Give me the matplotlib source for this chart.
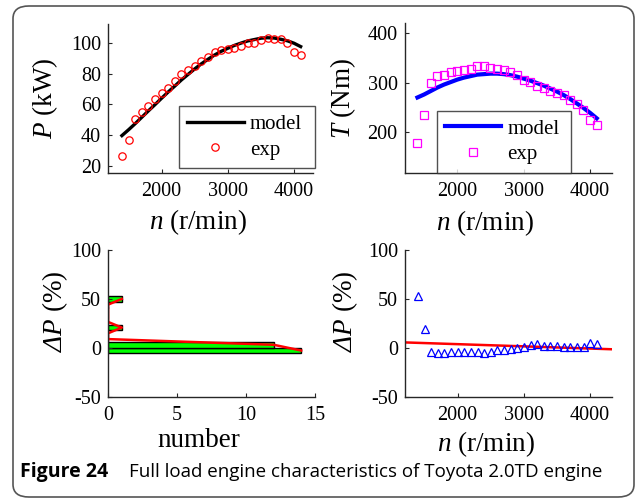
import matplotlib
matplotlib.use("Agg")
import matplotlib.pyplot as plt
from matplotlib.patches import FancyBboxPatch

plt.rcParams["font.family"] = "Liberation Serif"
plt.rcParams["mathtext.fontset"] = "custom"
plt.rcParams["mathtext.rm"] = "Liberation Serif"
plt.rcParams["mathtext.it"] = "Liberation Serif:italic"
# sans slot mapped to the italic serif so that Greek capitals come out slanted
plt.rcParams["mathtext.sf"] = "Liberation Serif:italic"

# Engine speed (r/min)
speed = [1400, 1500, 1600, 1700, 1800, 1900, 2000, 2100, 2200, 2300,
         2400, 2500, 2600, 2700, 2800, 2900, 3000, 3100, 3200, 3300,
         3400, 3500, 3600, 3700, 3800, 3900, 4000, 4100]

# Power (kW)
power_model = [39.6, 43.4, 47.4, 51.6, 55.8, 59.9, 64.1, 68.2, 72.1, 76.1,
               79.7, 83.3, 86.6, 89.6, 92.4, 94.8, 96.8, 98.7, 100.2, 101.6,
               102.5, 103.4, 103.7, 103.5, 102.7, 101.7, 100.1, 97.9]
power_exp = [26.0, 36.4, 50.3, 55.3, 59.0, 63.6, 67.8, 71.0, 75.4, 80.0,
             82.6, 85.2, 88.7, 91.3, 94.1, 95.6, 96.3, 97.0, 98.3, 100.0,
             100.4, 102.2, 103.3, 102.8, 102.6, 100.4, 94.1, 92.4]

# Torque (Nm)
torque_model = [270, 276, 283, 290, 296, 301, 306, 310, 313, 316,
                317, 318, 318, 317, 315, 312, 308, 304, 299, 294,
                288, 282, 275, 267, 258, 249, 239, 228]
torque_exp = [178, 234, 300, 314, 316, 321, 324, 326, 327, 334,
              333, 329, 328, 325, 321, 316, 306, 301, 294, 289,
              284, 280, 275, 265, 257, 245, 225, 215]

# Relative power error (%)
dp = [52.9, 19.5, -4.5, -5.7, -5.0, -4.5, -4.8, -4.2, -4.0, -4.8,
      -4.9, -4.2, -2.2, -1.8, -1.2, -0.4, 0.8, 2.8, 3.5, 2.2,
      1.7, 1.5, 1.2, 1.2, 0.9, 1.3, 4.8, 3.6]

# Histogram of the error: bin centres (%) and counts
bin_centers = [-2.8, 3.1, 8.9, 14.8, 20.7, 26.5, 32.4, 38.3, 44.1, 50.0]
bin_counts = [14, 12, 0, 0, 1, 0, 0, 0, 0, 1]
bin_width = 5.86

# Linear trend of the error over the speed range
trend_speed = [1205, 4330]
trend_dp = [5.5, -1.5]

W, H = 637, 503
fig = plt.figure(figsize=(W / 100, H / 100), dpi=100)

AX_COLOR = "#262626"
TICK_FS = 14.5
LEG_FS = 15
LABEL_FS = 19.5


def px_axes(x0, y0, x1, y1):
    return fig.add_axes([x0 / W, 1 - y1 / H, (x1 - x0) / W, (y1 - y0) / H])


def style(ax):
    for s in ("top", "right"):
        ax.spines[s].set_visible(False)
    for s in ("left", "bottom"):
        ax.spines[s].set_color(AX_COLOR)
        ax.spines[s].set_linewidth(1.0)
    ax.tick_params(direction="in", length=3, width=0.8, color=AX_COLOR,
                   labelsize=TICK_FS, labelcolor="black", pad=5)
    ax.tick_params(axis="x", pad=7)


def legend(ax, handles, labels, x0, y0, x1):
    lg = ax.legend(handles, labels, loc="lower left", mode="expand",
                   bbox_to_anchor=(x0 / W, 1 - y0 / H, (x1 - x0) / W, 0.05),
                   bbox_transform=fig.transFigure, fontsize=LEG_FS,
                   frameon=True, fancybox=False, handlelength=2.7,
                   handletextpad=0.3, borderpad=0.4, labelspacing=0.3,
                   borderaxespad=0)
    fr = lg.get_frame()
    fr.set_edgecolor(AX_COLOR)
    fr.set_linewidth(1.0)
    return lg


# Power
ax1 = px_axes(108, 24, 312.7, 172.7)
style(ax1)
l1, = ax1.plot(speed, power_model, color="black", lw=2.4)
m1, = ax1.plot(speed, power_exp, "o", mfc="none", mec="red", ms=5.3, mew=0.9)
ax1.set_xlim(1190, 4282)
ax1.set_ylim(15.3, 112.7)
ax1.set_yticks([20, 40, 60, 80, 100])
ax1.set_xticks([2000, 3000, 4000])
ax1.set_xlabel("$\\mathit{n}$ (r/min)", fontsize=LABEL_FS)
ax1.set_ylabel("$\\mathit{P}$ (kW)", fontsize=LABEL_FS)
ax1.xaxis.set_label_coords(0.44, -0.235)
ax1.yaxis.set_label_coords(-0.235, 0.5)
legend(ax1, [l1, m1], ["model", "exp"], 179, 168, 315)

# Torque
ax2 = px_axes(404.5, 23, 612, 172.7)
style(ax2)
l2, = ax2.plot(speed, torque_model, color="#0000ff", lw=3.0)
m2, = ax2.plot(speed, torque_exp, "s", mfc="none", mec="#ff00ff", ms=6.0, mew=0.9)
ax2.set_xlim(1205, 4330)
ax2.set_ylim(118.5, 420)
ax2.set_yticks([200, 300, 400])
ax2.set_xticks([2000, 3000, 4000])
ax2.set_xlabel("$\\mathit{n}$ (r/min)", fontsize=LABEL_FS)
ax2.set_ylabel("$\\mathit{T}$ (Nm)", fontsize=LABEL_FS)
ax2.xaxis.set_label_coords(0.39, -0.235)
ax2.yaxis.set_label_coords(-0.225, 0.5)
legend(ax2, [l2, m2], ["model", "exp"], 436.7, 172.7, 570.7)

# Error histogram
ax3 = px_axes(108, 250, 315, 396.7)
style(ax3)
ax3.barh(bin_centers, bin_counts, height=bin_width, color="#00ff00",
         edgecolor="black", linewidth=1.0)
ax3.plot(bin_counts, bin_centers, color="red", lw=1.8)
ax3.set_xlim(0, 15)
ax3.set_ylim(-50, 100)
ax3.set_xticks([0, 5, 10, 15])
ax3.set_yticks([-50, 0, 50, 100])
ax3.set_yticklabels(["-50", "0", "50", "100"])
ax3.set_xlabel("number", fontsize=LABEL_FS)
ax3.set_ylabel("$\\mathsf{\\Delta P}$ (%)", fontsize=LABEL_FS)
ax3.xaxis.set_label_coords(0.44, -0.215)
ax3.yaxis.set_label_coords(-0.184, 0.58)

# Error versus speed
ax4 = px_axes(405, 250, 612, 396.7)
style(ax4)
ax4.plot(trend_speed, trend_dp, color="red", lw=1.8)
ax4.plot(speed, dp, "^", mfc="none", mec="#0000ff", ms=6.0, mew=0.9)
ax4.set_xlim(1205, 4330)
ax4.set_ylim(-50, 100)
ax4.set_xticks([2000, 3000, 4000])
ax4.set_yticks([-50, 0, 50, 100])
ax4.set_yticklabels(["-50", "0", "50", "100"])
ax4.set_xlabel("$\\mathit{n}$ (r/min)", fontsize=LABEL_FS)
ax4.set_ylabel("$\\mathsf{\\Delta P}$ (%)", fontsize=LABEL_FS)
ax4.xaxis.set_label_coords(0.39, -0.22)
ax4.yaxis.set_label_coords(-0.215, 0.58)

# Frame and caption
frame = FancyBboxPatch((13 / W, 6 / H), (634 - 13) / W, (497 - 6) / H,
                       boxstyle="round,pad=0,rounding_size=0.025",
                       transform=fig.transFigure, facecolor="none",
                       edgecolor="#555555", linewidth=1.2)
fig.patches.append(frame)
fig.text(20 / W, 1 - 472 / H, "Figure 24", fontsize=14, fontweight="bold",
         family="Open Sans", va="center", ha="left")
fig.text(129 / W, 1 - 472 / H,
         "Full load engine characteristics of Toyota 2.0TD engine",
         fontsize=13.5, family="Open Sans", va="center", ha="left")

fig.savefig("out.png", dpi=100)
